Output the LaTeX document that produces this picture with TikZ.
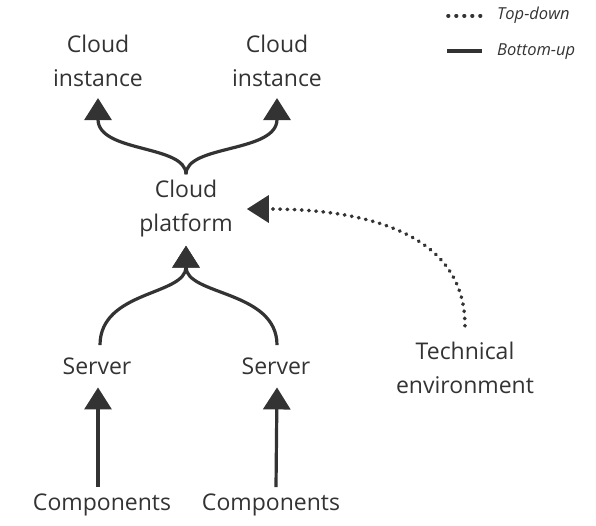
\documentclass[tikz,border=0pt]{standalone}
\usepackage{fontspec}
\setmainfont{Open Sans}
\usetikzlibrary{arrows.meta,calc}
\definecolor{ink}{HTML}{333333}
\tikzset{
  lbl/.style={text=ink, inner sep=0pt, align=center, font=\fontsize{23}{34}\selectfont},
  leg/.style={text=ink, inner sep=0pt, anchor=base west, font=\fontsize{16.5}{20}\selectfont\itshape},
  solidarr/.style={draw=ink, line width=3.2pt, -{Triangle[width=27pt,length=22pt]}},
  dotarr/.style={draw=ink, line width=3.6pt, line cap=round, dash pattern=on 0.6pt off 6.6pt, -{Triangle[width=27pt,length=22pt]}},
  dotline/.style={draw=ink, line width=3.6pt, line cap=round, dash pattern=on 0.6pt off 7.4pt},
  solidline/.style={draw=ink, line width=3.2pt},
}
\begin{document}
\begin{tikzpicture}[x=1pt,y=-1pt]
\useasboundingbox (0,0) rectangle (596,525);
% nodes
\node[lbl] (ci1) at (98,61) {Cloud\\instance};
\node[lbl] (ci2) at (277,61) {Cloud\\instance};
\node[lbl] (cp) at (186,209) {Cloud\\platform};
\node[lbl] (te) at (465,368) {Technical\\environment};
\node[lbl, anchor=base] (s1) at (97,374) {Server};
\node[lbl, anchor=base] (s2) at (276,374) {Server};
\node[lbl, anchor=base] (c1) at (102,510) {Components};
\node[lbl, anchor=base] (c2) at (271,510) {Components};
% legend
\node[leg] (ltd) at (497,19) {Top-down};
\node[leg] (lbu) at (497,55) {Bottom-up};
\draw[dotline] ($(ltd.west)+(-49,1)$) -- ($(ltd.west)+(-15,1)$);
\draw[solidline] ($(lbu.west)+(-50,0)$) -- ($(lbu.west)+(-15,0)$);
% top split
\coordinate (jt) at ($(cp.north)+(0,-6)$);
\draw[solidarr] (jt) .. controls +(0,-30) and +(0,55) .. ($(ci1.south)+(0,11)$);
\draw[solidarr] (jt) .. controls +(0,-30) and +(0,55) .. ($(ci2.south)+(0,11)$);
% bottom merge
\draw[solidarr] ($(s1.north)+(3,-12)$) .. controls +(0,-55) and +(0,50) .. ($(cp.south)+(0,8)$);
\draw[solidarr] ($(s2.north)+(1,-12)$) .. controls +(0,-55) and +(0,50) .. ($(cp.south)+(0,8)$);
% dotted
\draw[dotarr] ($(te.north)+(0,-16)$) .. controls +(0,-85) and +(135,0) .. ($(cp.east)+(14,0)$);
% server arrows
\draw[solidarr] ($(c1.north)+(-4,-6)$) -- ($(s1.south)+(1,13)$);
\draw[solidarr] ($(c2.north)+(5,-6)$) -- ($(s2.south)+(1,13)$);
\end{tikzpicture}
\end{document}
